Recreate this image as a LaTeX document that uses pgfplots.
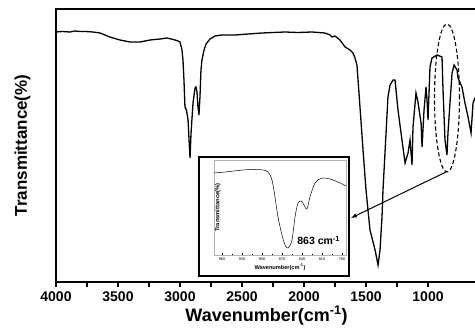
\documentclass[border=0pt]{standalone}
\usepackage{pgfplots}
\pgfplotsset{compat=1.18}
\usepackage{fontspec}
\setmainfont{Liberation Sans}
\begin{document}
\begin{tikzpicture}
\useasboundingbox (0pt,0pt) rectangle (475pt,335pt);
\begin{axis}[
  at={(56pt,53pt)}, anchor=south west,
  scale only axis, width=421pt, height=273pt,
  xmin=605, xmax=4000, x dir=reverse,
  ymin=0, ymax=273,
  axis line style={line width=1.3pt},
  xtick={1000,1500,...,4000},
  minor x tick num=1,
  xtick pos=bottom, tick align=outside,
  major tick length=5pt, minor tick length=5pt,
  every tick/.style={line width=1.2pt, black},
  ytick=\empty,
  /pgf/number format/assume math mode=true,
  /pgf/number format/1000 sep={},
  xticklabel style={font=\fontsize{14}{16}\selectfont\bfseries, yshift=-1pt},
  xlabel={Wavenumber(cm\textsuperscript{-1})},
  xlabel style={font=\fontsize{18}{20}\selectfont\bfseries, yshift=2pt},
  ylabel={Transmittance(\%)},
  ylabel style={font=\fontsize{17}{19}\selectfont\bfseries, yshift=17pt},
  clip=false,
]
\addplot[black, line width=1.3pt] coordinates {
(4000,250) (3950,250.5) (3887,250) (3850,251) (3806,250.5) (3760,250.5) (3702,250)
(3645,249) (3565,245) (3484,242) (3403,240) (3323,240) (3242,242) (3161,243)
(3105,244) (3040,242) (3016,241) (3000,240) (2984,232) (2976,222) (2968,202)
(2960,175) (2948,172) (2935,162) (2927,142) (2919,124) (2911,149) (2895,179)
(2879,194) (2871,195) (2863,190) (2855,175) (2847,167) (2839,185) (2831,212)
(2823,222) (2806,232) (2790,238) (2758,243) (2718,246) (2661,247) (2556,247)
(2450,248) (2339,249) (2250,249.5) (2153,250) (2050,249.5) (1935,250) (1831,249)
(1790,247) (1774,245) (1750,246) (1710,242) (1669,235) (1629,232) (1605,229)
(1589,224) (1573,217) (1548,174) (1524,132) (1500,92) (1468,52) (1427,32)
(1403,17) (1387,32) (1371,65) (1363,92) (1347,129) (1323,185) (1306,197)
(1282,202) (1266,202) (1242,172) (1210,142) (1185,119) (1161,129) (1145,142)
(1129,117) (1121,155) (1097,189) (1081,180) (1056,159) (1048,135) (1032,172)
(1016,195) (1008,182) (1000,162) (984,215) (968,224) (927,227) (887,225)
(879,192) (863,142) (847,127) (839,149) (823,179) (806,209) (790,217)
(766,212) (758,204) (726,195) (702,179) (677,165) (653,149) (637,179)
(621,184) (605,186)
};
\end{axis}
% zoom marker and arrow
\draw[black, line width=1.1pt, dash pattern=on 4pt off 2.5pt] (447pt,237pt) ellipse [x radius=12.5pt, y radius=74pt];
\draw[black, line width=1pt, -latex] (446pt,163pt) -- (351pt,117pt);
% inset frame
\fill[white] (199pt,59pt) rectangle (349pt,178pt);
\draw[black, line width=1.3pt] (199pt,59pt) rectangle (349pt,178pt);
\begin{axis}[
  at={(214pt,80pt)}, anchor=south west,
  scale only axis, width=132pt, height=95pt,
  xmin=774, xmax=972, x dir=reverse,
  ymin=0, ymax=95,
  axis line style={gray!60, line width=0.8pt},
  xtick={780,810,...,960},
  minor x tick num=1,
  xtick pos=bottom, tick align=inside,
  major tick length=1.5pt, minor tick length=1pt,
  every tick/.style={black, line width=0.3pt},
  ytick=\empty,
  /pgf/number format/assume math mode=true,
  xticklabel style={font=\fontsize{3.8}{4}\selectfont, yshift=1pt},
  xlabel={Wavenumber(cm\textsuperscript{-1})},
  xlabel style={font=\fontsize{5.6}{6}\selectfont\bfseries, yshift=3pt},
  ylabel={Transmittance(\%)},
  ylabel style={font=\fontsize{5.8}{6}\selectfont\bfseries, yshift=-10pt},
]
\addplot[black, line width=0.5pt, smooth] coordinates {
(972,82) (955,83) (928.5,85) (910.5,85.5) (898.5,85) (891,83) (885,75)
(880.5,58) (876,38) (870,20) (865.5,10) (861,7) (855,15) (850.5,38)
(846,52) (841.5,54) (837,50) (832.5,46) (828,58) (820.5,72) (810,77)
(798,76) (786,73) (774,69)
};
\node[font=\fontsize{10.5}{12}\selectfont\bfseries, anchor=base] at (axis cs:815,10) {863 cm\textsuperscript{-1}};
\end{axis}
\end{tikzpicture}
\end{document}
